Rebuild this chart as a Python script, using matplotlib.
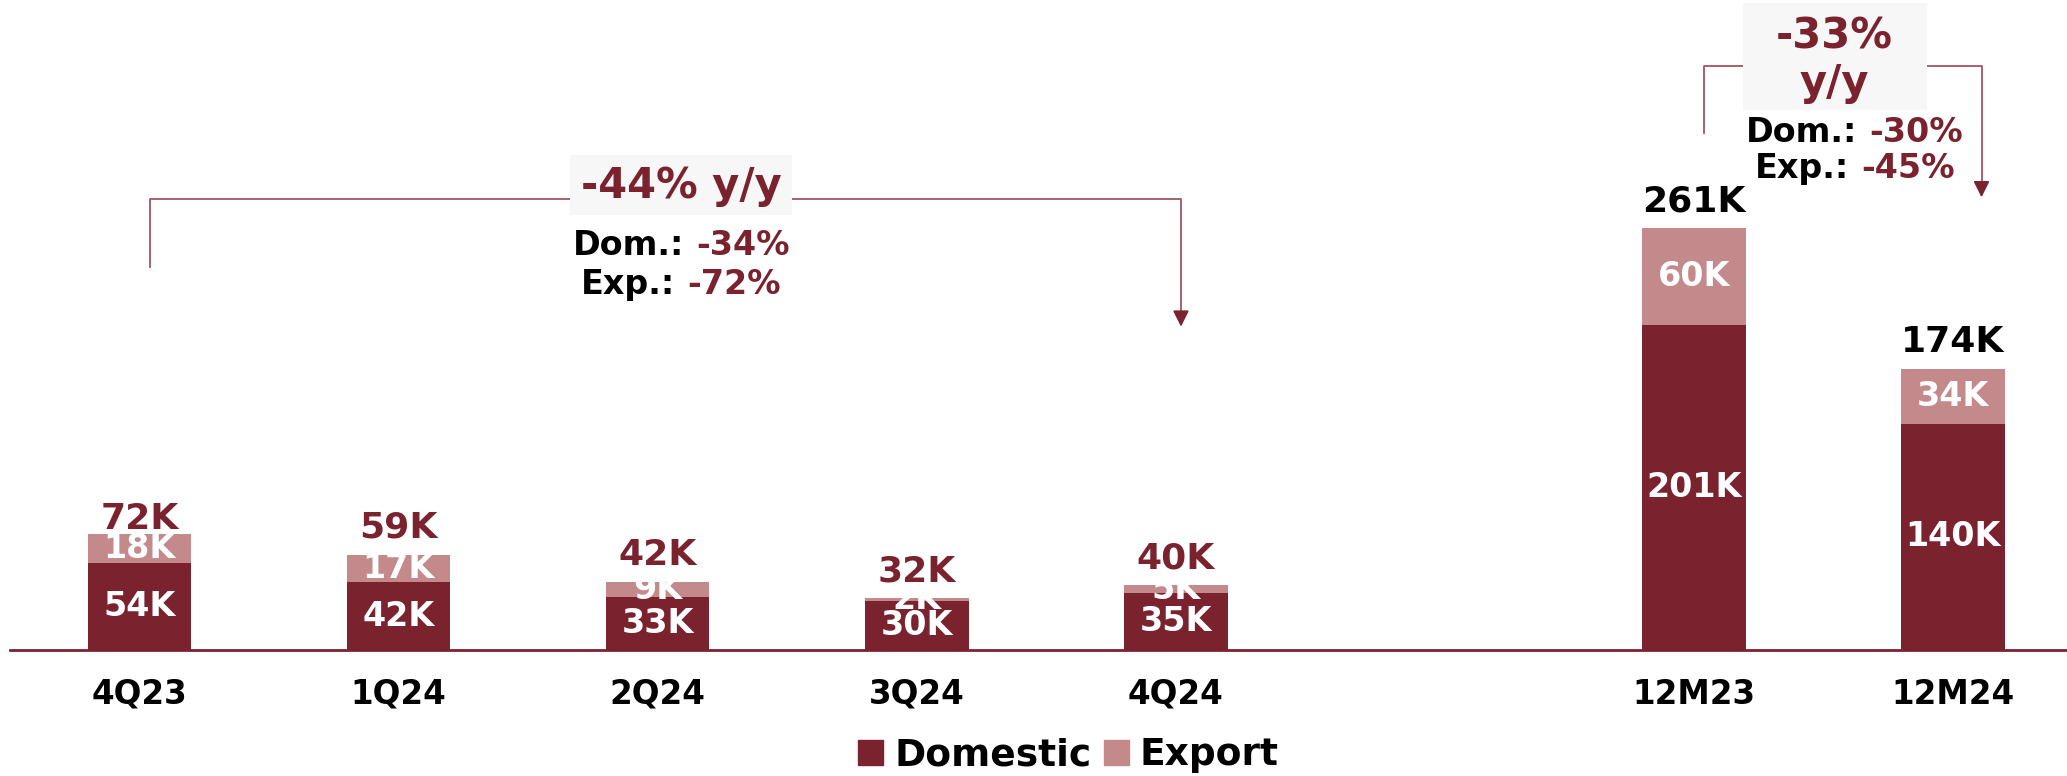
import matplotlib
matplotlib.use('Agg')
import matplotlib.pyplot as plt
from matplotlib.patches import Patch, Rectangle
from matplotlib.transforms import offset_copy

# data (thousands of units)
CATEGORIES = ['4Q23', '1Q24', '2Q24', '3Q24', '4Q24', '12M23', '12M24']
POSITIONS = [0, 1, 2, 3, 4, 6, 7]
DOMESTIC = [54, 42, 33, 30, 35, 201, 140]
EXPORT = [18, 17, 9, 2, 5, 60, 34]
TOTALS = [72, 59, 42, 32, 40, 261, 174]
TOTAL_COLORS = ['#7b222f'] * 5 + ['black'] * 2

Q_CHANGE = ('-44% y/y', '-34%', '-72%')
Y_CHANGE = ('-33%\ny/y', '-30%', '-45%')

MAROON = '#7b222f'
PINK = '#c48a8b'
LINE = '#a4545f'
BOX = '#f7f7f7'

fig = plt.figure(figsize=(20.67, 7.76), dpi=100)
ax = fig.add_axes([10 / 2067, 1 - 650 / 776, 2057 / 2067, 650 / 776])
ax.set_xlim(-0.5, 7.44)
ax.set_ylim(0, 402)

ax.bar(POSITIONS, DOMESTIC, width=0.4, color=MAROON, zorder=2)
ax.bar(POSITIONS, EXPORT, width=0.4, bottom=DOMESTIC, color=PINK, zorder=2)

for x, d, e, t, c in zip(POSITIONS, DOMESTIC, EXPORT, TOTALS, TOTAL_COLORS):
    ax.text(x, d / 2, f'{d}K', ha='center', va='center', color='white',
            fontsize=24, fontweight='bold', zorder=3)
    ax.text(x, d + e / 2, f'{e}K', ha='center', va='center', color='white',
            fontsize=24, fontweight='bold', zorder=3)
    lift = -2 if x == 0 else 7
    ax.annotate(f'{t}K', (x, t), xytext=(0, lift), textcoords='offset points',
                ha='center', va='bottom', color=c, fontsize=26, fontweight='bold', zorder=3)

for s in ['top', 'left', 'right']:
    ax.spines[s].set_visible(False)
ax.spines['bottom'].set_color(MAROON)
ax.spines['bottom'].set_linewidth(2)
ax.set_yticks([])
ax.set_xticks(POSITIONS, CATEGORIES)
ax.tick_params(axis='x', length=0, pad=20)
for lbl in ax.get_xticklabels():
    lbl.set_fontsize(23.5)
    lbl.set_fontweight('bold')


def bracket(x0, x1, y_start, y_top, y_end):
    ax.plot([x0, x0, x1, x1], [y_start, y_top, y_top, y_end + 6], color=LINE, lw=1.3, zorder=1)
    ax.annotate('', xy=(x1, y_end), xytext=(x1, y_end + 8),
                arrowprops=dict(arrowstyle='-|>', color=MAROON, lw=1.3,
                                mutation_scale=24, shrinkA=0, shrinkB=0))


def two_tone(x, y, left, right, size):
    gap = 12
    t1 = ax.text(x, y, left, color='black', fontsize=size, fontweight='bold', ha='left', va='center')
    t2 = ax.text(x, y, right, color=MAROON, fontsize=size, fontweight='bold', ha='left', va='center')
    fig.canvas.draw()
    w1 = t1.get_window_extent().width
    w2 = t2.get_window_extent().width
    start = -(w1 + gap + w2) / 2
    t1.set_transform(offset_copy(ax.transData, fig, x=start, y=0, units='dots'))
    t2.set_transform(offset_copy(ax.transData, fig, x=start + w1 + gap, y=0, units='dots'))


# quarterly change
bracket(POSITIONS[0] + 0.04, POSITIONS[4] + 0.02, 237, 279, 200)
ax.add_patch(Rectangle((1.66, 269), 0.86, 37, fc=BOX, ec='none', zorder=3))
ax.text(2.09, 287, Q_CHANGE[0], ha='center', va='center', color=MAROON, fontsize=30,
        fontweight='bold', zorder=4)
two_tone(2.09, 250, 'Dom.:', Q_CHANGE[1], 24)
two_tone(2.09, 226, 'Exp.:', Q_CHANGE[2], 24)

# full-year change
bracket(POSITIONS[5] + 0.04, POSITIONS[6] + 0.11, 320, 361, 280)
ax.add_patch(Rectangle((6.19, 334), 0.71, 66, fc=BOX, ec='none', zorder=3))
ax.text(6.54, 365, Y_CHANGE[0], ha='center', va='center', color=MAROON, fontsize=30,
        fontweight='bold', linespacing=1.15, zorder=4)
two_tone(6.62, 320, 'Dom.:', Y_CHANGE[1], 24)
two_tone(6.62, 298, 'Exp.:', Y_CHANGE[2], 24)

handles = [Patch(color=MAROON, label='Domestic'), Patch(color=PINK, label='Export')]
fig.legend(handles=handles, loc='lower center', bbox_to_anchor=(0.517, -0.04), ncol=2,
           frameon=False, handlelength=0.65, handleheight=0.65, handletextpad=0.3,
           columnspacing=0.35, prop=dict(size=27, weight='bold'))

fig.savefig('out.png', dpi=100)
